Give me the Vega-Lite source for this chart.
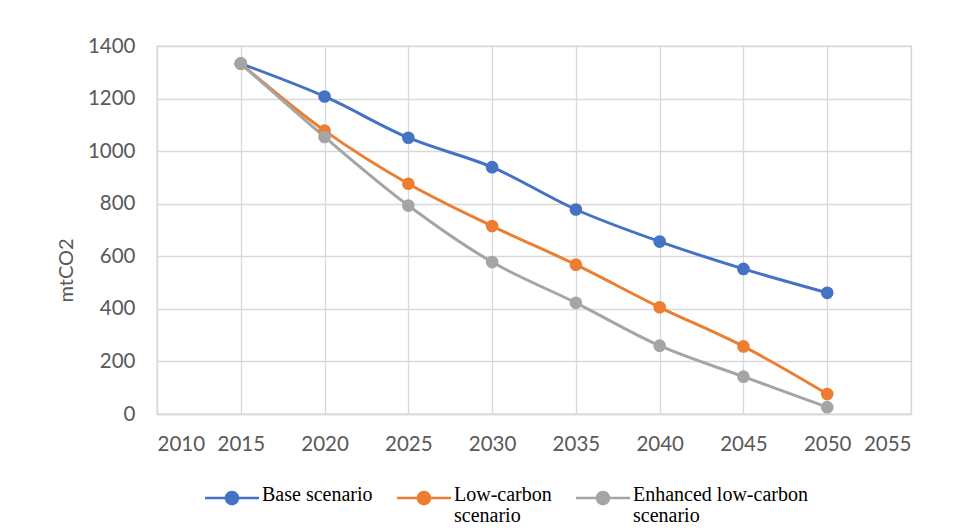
{
  "$schema": "https://vega.github.io/schema/vega-lite/v6.json",
  "width": 754,
  "height": 368,
  "autosize": {"type": "none"},
  "padding": {"left": 157, "top": 46, "right": 42, "bottom": 116},
  "background": "white",
  "config": {"view": {"stroke": "#D9D9D9", "strokeWidth": 1.3}, "font": "Lato"},
  "data": {
    "values": [
      {"year": 2015, "scenario": "Base scenario", "value": 1333},
      {"year": 2020, "scenario": "Base scenario", "value": 1208},
      {"year": 2025, "scenario": "Base scenario", "value": 1051},
      {"year": 2030, "scenario": "Base scenario", "value": 939},
      {"year": 2035, "scenario": "Base scenario", "value": 778},
      {"year": 2040, "scenario": "Base scenario", "value": 656},
      {"year": 2045, "scenario": "Base scenario", "value": 552},
      {"year": 2050, "scenario": "Base scenario", "value": 461},
      {"year": 2015, "scenario": "Low-carbon scenario", "value": 1333},
      {"year": 2020, "scenario": "Low-carbon scenario", "value": 1078},
      {"year": 2025, "scenario": "Low-carbon scenario", "value": 876},
      {"year": 2030, "scenario": "Low-carbon scenario", "value": 715},
      {"year": 2035, "scenario": "Low-carbon scenario", "value": 568},
      {"year": 2040, "scenario": "Low-carbon scenario", "value": 406},
      {"year": 2045, "scenario": "Low-carbon scenario", "value": 257},
      {"year": 2050, "scenario": "Low-carbon scenario", "value": 76},
      {"year": 2015, "scenario": "Enhanced low-carbon scenario", "value": 1333},
      {"year": 2020, "scenario": "Enhanced low-carbon scenario", "value": 1054},
      {"year": 2025, "scenario": "Enhanced low-carbon scenario", "value": 793},
      {"year": 2030, "scenario": "Enhanced low-carbon scenario", "value": 578},
      {"year": 2035, "scenario": "Enhanced low-carbon scenario", "value": 423},
      {"year": 2040, "scenario": "Enhanced low-carbon scenario", "value": 260},
      {"year": 2045, "scenario": "Enhanced low-carbon scenario", "value": 142},
      {"year": 2050, "scenario": "Enhanced low-carbon scenario", "value": 26}
    ]
  },
  "mark": {
    "type": "line",
    "strokeWidth": 3,
    "interpolate": "catmull-rom",
    "point": {"filled": true, "size": 160, "opacity": 1}
  },
  "encoding": {
    "x": {
      "field": "year",
      "type": "quantitative",
      "scale": {"domain": [2010, 2055], "nice": false, "zero": false},
      "axis": {
        "values": [2010, 2015, 2020, 2025, 2030, 2035, 2040, 2045, 2050, 2055],
        "format": "d",
        "title": null,
        "grid": true,
        "gridColor": "#D9D9D9",
        "gridWidth": 1.3,
        "ticks": false,
        "domainColor": "#D9D9D9",
        "domainWidth": 1.3,
        "labelColor": "#595959",
        "labelFont": "Lato",
        "labelFontSize": 20.5,
        "labelPadding": 20
      }
    },
    "y": {
      "field": "value",
      "type": "quantitative",
      "scale": {"domain": [0, 1400], "nice": false},
      "axis": {
        "values": [0, 200, 400, 600, 800, 1000, 1200, 1400],
        "format": "d",
        "title": "mtCO2",
        "titleFont": "Lato",
        "titleFontSize": 20,
        "titleFontWeight": "normal",
        "titleColor": "#595959",
        "titleX": -91,
        "titleY": 224,
        "titleAngle": -90,
        "titleAlign": "center",
        "titleBaseline": "middle",
        "grid": true,
        "gridColor": "#D9D9D9",
        "gridWidth": 1.3,
        "ticks": false,
        "domainColor": "#D9D9D9",
        "domainWidth": 1.3,
        "labelColor": "#595959",
        "labelFont": "Lato",
        "labelFontSize": 20.5,
        "labelPadding": 22
      }
    },
    "color": {
      "field": "scenario",
      "type": "nominal",
      "scale": {
        "domain": ["Base scenario", "Low-carbon scenario", "Enhanced low-carbon scenario"],
        "range": ["#4472C4", "#ED7D31", "#A5A5A5"]
      },
      "legend": {
        "title": null,
        "orient": "none",
        "direction": "horizontal",
        "columns": 3,
        "legendX": 48,
        "legendY": 425,
        "symbolType": "M-1,-0.05H-0.2V0.05H-1Z M0.2,-0.05H1V0.05H0.2Z M0.27,0A0.27,0.27,0,1,1,-0.27,0A0.27,0.27,0,1,1,0.27,0Z",
        "symbolSize": 2916,
        "symbolStrokeWidth": 0,
        "labelFont": "Liberation Serif",
        "labelFontSize": 20,
        "labelColor": "#000000",
        "labelBaseline": "alphabetic",
        "labelOffset": 3,
        "labelLimit": 300,
        "columnPadding": 24,
        "labelExpr": "datum.label == 'Base scenario' ? [datum.label, ''] : [replace(datum.label, ' scenario', ''), 'scenario']",
        "encode": {
          "symbols": {"update": {"fill": {"scale": "color", "field": "value"}, "opacity": {"value": 1}}},
          "labels": {"update": {"lineHeight": {"value": 21}, "dy": {"value": 3}}}
        }
      }
    }
  }
}
